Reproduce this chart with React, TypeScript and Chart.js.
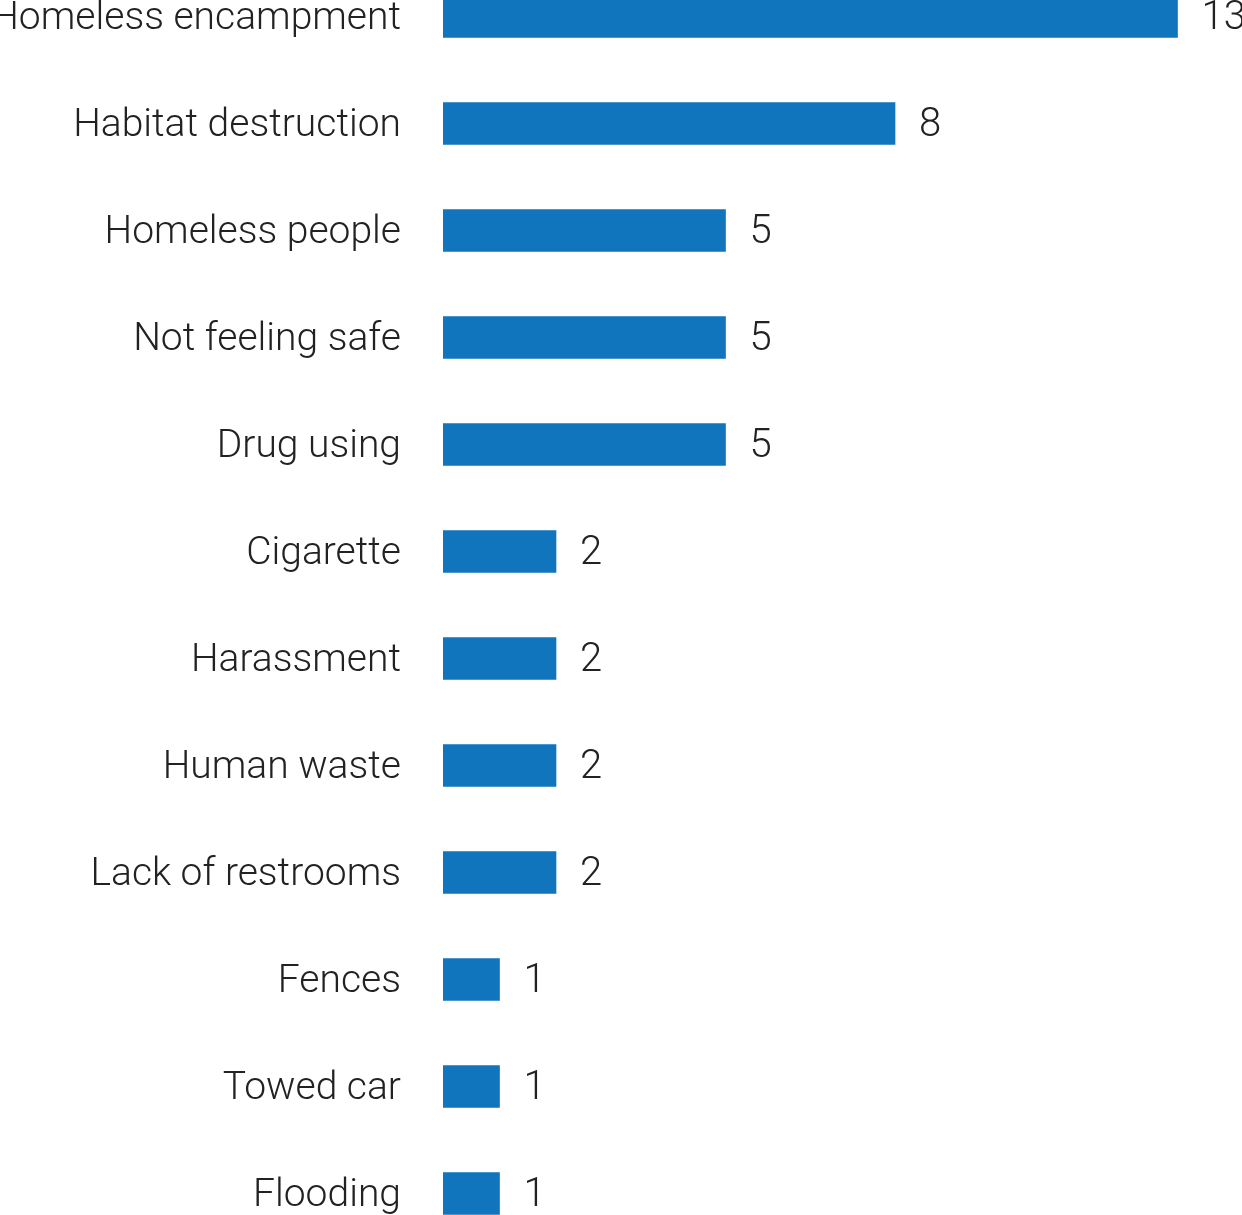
import React, { useEffect, useRef } from "react";
import { Chart, registerables } from "chart.js";

Chart.register(...registerables);

const categories = [
  "Homeless encampment",
  "Habitat destruction",
  "Homeless people",
  "Not feeling safe",
  "Drug using",
  "Cigarette",
  "Harassment",
  "Human waste",
  "Lack of restrooms",
  "Fences",
  "Towed car",
  "Flooding",
];
const counts = [13, 8, 5, 5, 5, 2, 2, 2, 2, 1, 1, 1];

const BAR_COLOR = "#1075bd";
const TEXT_COLOR = "#222222";
const FONT_FAMILY = "Roboto, 'Noto Sans', sans-serif";

const valueLabels = {
  id: "valueLabels",
  afterDatasetsDraw(chart: any) {
    const ctx = chart.ctx;
    const meta = chart.getDatasetMeta(0);
    ctx.save();
    ctx.font = `300 40px ${FONT_FAMILY}`;
    ctx.fillStyle = TEXT_COLOR;
    ctx.textAlign = "left";
    ctx.textBaseline = "middle";
    meta.data.forEach((el: any, i: number) => {
      ctx.fillText(String(counts[i]), el.x + 24, el.y + 2);
    });
    ctx.restore();
  },
};

export default function App() {
  const ref = useRef<HTMLCanvasElement | null>(null);
  useEffect(() => {
    if (!ref.current) return;
    const chart = new Chart(ref.current, {
      type: "bar",
      data: {
        labels: categories,
        datasets: [
          {
            data: counts,
            backgroundColor: BAR_COLOR,
            barThickness: 42,
            borderWidth: 0,
          },
        ],
      },
      options: {
        indexAxis: "y",
        animation: false,
        responsive: false,
        maintainAspectRatio: false,
        layout: { padding: { top: 3, bottom: 3, left: 0, right: 8 } },
        plugins: { legend: { display: false }, tooltip: { enabled: false } },
        scales: {
          x: {
            type: "linear",
            min: 0,
            max: 14,
            display: false,
            grid: { display: false },
          },
          y: {
            type: "category",
            offset: true,
            grid: { display: false, drawTicks: false },
            border: { display: false },
            ticks: {
              color: TEXT_COLOR,
              padding: 42,
              labelOffset: 3,
              font: { family: FONT_FAMILY, size: 39, weight: "300" as any },
            },
            afterFit(scale: any) {
              scale.width = 443;
              scale.paddingTop = 0;
              scale.paddingBottom = 0;
            },
          },
        },
      },
      plugins: [valueLabels],
    });
    return () => chart.destroy();
  }, []);
  return (
    <div
      style={{
        position: "fixed",
        left: 0,
        top: 0,
        width: 1242,
        height: 1215,
        overflow: "hidden",
        background: "#ffffff",
      }}
    >
      <canvas
        ref={ref}
        width={1242}
        height={1290}
        style={{ position: "absolute", left: 0, top: -40, width: 1242, height: 1290 }}
      />
    </div>
  );
}
